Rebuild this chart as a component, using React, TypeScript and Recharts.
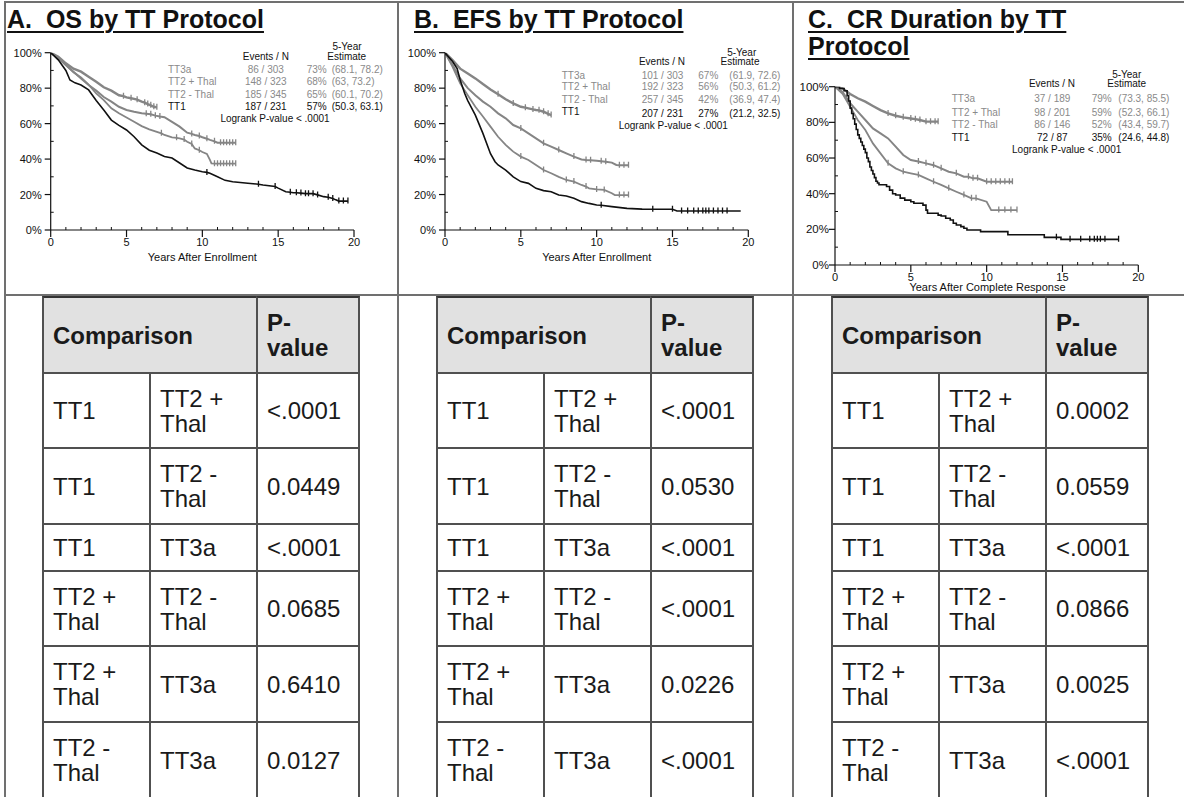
import React from 'react';
import { LineChart, Line, XAxis, YAxis } from 'recharts';

// ---------------- DATA ----------------
type Pt = number[]; // [years, survival %, censored flag (1)]

const seriesNames = ['TT3a', 'TT2 + Thal', 'TT2 - Thal', 'TT1'];

// A. OS
const osTT3a: Pt[] = [[0,100],[0.5,97.7],[1,94],[1.5,91],[2,89.3],[2.5,86.5],[3,83.6],[3.5,80.5],[4,78.6],[4.5,76],[4.8,75.5,1],[5,74.8],[5.3,74.3,1],[5.5,74],[5.7,73.5,1],[6,72.4],[6.2,71.8,1],[6.4,71,1],[6.6,70.3,1],[6.8,69.5,1],[7,69.2,1]];
const osTT2p: Pt[] = [[0,100],[0.5,97],[1,93],[1.5,89.3],[2,85.5],[2.5,81.8],[3,78.6],[3.5,75],[4,72.4],[4.5,69.5],[5,67.7],[5.5,66.7],[6,65.8],[6.3,65.6,1],[6.6,65.3,1],[6.9,64.5,1],[7.2,64,1],[7.5,63.6],[8,61],[8.5,58.3],[9,54.9],[9.3,54.2,1],[9.5,53.6],[9.8,53,1],[10,52.3],[10.3,51.5,1],[10.5,50.8],[10.8,50,1],[11,49.2],[11.2,49.2,1],[11.4,49.2,1],[11.6,49.2,1],[11.8,49.2,1],[12,49.2,1],[12.2,49.2,1]];
const osTT2m: Pt[] = [[0,100],[0.5,97],[1,93],[1.5,89],[2,86],[2.5,82],[3,77],[3.5,73.3],[4,68.6],[4.5,65.8],[5,63.5],[5.5,61],[6,58.6],[6.5,56.8],[7,55.4],[7.3,54.5,1],[7.5,53.6],[8,52.3],[8.3,52,1],[8.5,51.7],[8.8,51,1],[9,49.8],[9.3,48.5,1],[9.5,46],[9.8,45,1],[10,44],[10.3,42.9],[10.5,39.5],[10.6,37.6],[10.8,37.4,1],[11,37.4,1],[11.2,37.4,1],[11.4,37.4,1],[11.6,37.4,1],[11.8,37.4,1],[12,37.4,1],[12.2,37.4,1]];
const osTT1: Pt[] = [[0,100],[0.5,96],[1,90],[1.27,84.6],[1.6,83],[2,81.8],[2.5,79],[3,73],[3.5,67.7],[4,62],[4.5,59],[5,56.4],[5.5,52.6],[6,48],[6.5,45],[7,43.4],[7.5,41.4],[8,40.6],[8.5,37.8],[9,35],[9.5,33.8],[10,32.9],[10.3,32.5,1],[10.5,32],[11,30],[11.5,28],[12,27.2],[13,26.4],[13.7,25.8,1],[14,25.4],[14.8,24.5,1],[15,23.6],[15.5,21.6],[15.8,21.3,1],[16,21],[16.2,21,1],[16.5,20.8,1],[16.8,20.5,1],[17,20.5,1],[17.3,20.5,1],[17.6,19.8,1],[18,18.8],[18.3,18.5,1],[18.6,17.8,1],[18.8,17],[19,16.3,1],[19.3,16.3,1],[19.6,16.3,1]];

// B. EFS
const efsTT3a: Pt[] = [[0,100],[0.5,95.9],[1,91],[1.5,88.3],[2,85.5],[2.5,82.3],[3,79.3],[3.5,76.5,1],[4,73.7],[4.5,71.4,1],[5,69.5],[5.3,69,1],[5.5,68.6],[5.8,68,1],[6,67.7],[6.2,67.5,1],[6.5,66.7,1],[6.8,65.5,1],[7,64.8,1]];
const efsTT2p: Pt[] = [[0,100],[0.5,93],[1,85.5],[1.5,80],[2,76],[2.5,72.4],[3,69.5],[3.5,65.8],[4,63],[4.5,59.2],[5,57.3,1],[5.5,54.5],[6,51.7],[6.5,48.9,1],[7,47],[7.5,45.1,1],[8,43.2],[8.5,41.4,1],[9,39.8],[9.3,39.5,1],[9.6,39.3,1],[10,39],[10.3,38.8,1],[10.6,38.5,1],[11,38],[11.3,36.7],[11.5,36.5,1],[11.8,36.5,1],[12.1,36.5,1]];
const efsTT2m: Pt[] = [[0,100],[0.5,92],[1,82.7],[1.5,76],[2,69.5],[2.5,64],[3,58.3],[3.5,52.6],[4,48],[4.5,44.2],[5,41.4,1],[5.5,39.5],[6,36.7],[6.5,33.8,1],[7,32],[7.5,30],[8,28.2,1],[8.5,27.3,1],[9,25.4],[9.3,24.5,1],[9.5,23.5],[10,22.9,1],[10.5,22.6,1],[11,20.7],[11.2,19.7],[11.5,19.7,1],[11.8,19.7,1],[12.1,19.7,1]];
const efsTT1: Pt[] = [[0,100],[0.5,95],[0.8,91],[1,84.6],[1.3,77],[1.5,73],[2,64.8],[2.5,54.5],[3,43],[3.3,38.5],[3.5,36.7],[4,33.8],[4.5,30],[5,27.3],[5.5,26.3],[6,23.5],[6.5,22.2],[7,21.6],[7.5,19.7],[8,19.2],[8.5,17.9],[9,16],[9.5,15],[10,14.1],[10.3,14,1],[11,13.2],[12,12.2],[13,11.8],[13.7,11.7,1],[15,11.7,1],[15.3,10.7],[15.6,10.7,1],[16,10.7,1],[16.4,10.7,1],[16.7,10.7,1],[17,10.7,1],[17.2,10.7,1],[17.4,10.7,1],[17.7,10.7,1],[18,10.7,1],[18.3,10.7,1],[18.6,10.7,1],[19.5,10.7]];

// C. CR duration
const crTT3a: Pt[] = [[0,100],[0.5,99],[1,95.9],[1.5,93.5],[2,91.6],[2.5,89.2],[3,86.9],[3.5,85,1],[4,83.7,1],[4.5,82.8,1],[5,82.2,1],[5.3,81.8,1],[5.6,81.3,1],[6,80.4,1],[6.3,80.4,1],[6.6,80.4,1],[6.8,80.4,1]];
const crTT2p: Pt[] = [[0,100],[0.5,97],[1,90.7],[1.5,86],[2,81.3],[2.5,76.6],[3,73.8],[3.5,71],[4,66.4],[4.5,61.7],[5,58.9],[5.5,58,1],[6,57,1],[6.5,56,1],[7,54.2,1],[7.5,52.3],[8,51.4,1],[8.5,49.5],[8.8,49.5,1],[9.1,48.6,1],[9.4,48.6,1],[9.7,47.7],[10,46.7,1],[10.3,46.7,1],[10.6,46.7,1],[10.9,46.7,1],[11.2,46.7,1],[11.5,46.7,1],[11.7,46.7,1]];
const crTT2m: Pt[] = [[0,100],[0.5,96],[1,88.8],[1.5,81.3],[2,75.7],[2.5,68.2],[3,62.6],[3.5,57,1],[4,54.2],[4.5,52.3,1],[5,51.4],[5.5,50.5,1],[6,48.6],[6.5,46.7,1],[7,44.9],[7.5,43,1],[8,41.1],[8.5,39.3,1],[9,37.4,1],[9.3,37.4,1],[10,35.5],[10.3,30.8],[10.8,30.8,1],[11.2,30.8,1],[11.6,30.8,1],[12,30.8,1]];
const crTT1: Pt[] = [[0,100],[0.3,99],[0.6,97.7],[0.8,95],[0.9,92],[1,88],[1.1,85],[1.2,82],[1.3,79],[1.4,76],[1.5,73],[1.6,71],[1.7,69],[1.8,67],[1.9,65],[2,63],[2.1,60],[2.2,58],[2.3,55],[2.4,53],[2.5,51],[2.6,49],[2.7,47],[2.8,46],[2.9,45],[3.4,44],[3.6,42],[3.8,40],[4,39.3],[4.3,37.5],[4.6,36.4],[5,35.5],[5.2,34.6],[5.8,33.6],[6,30.8],[6.1,29],[6.8,28],[7,27.5],[7.3,26.2],[7.6,25.2],[7.8,23.4],[8,22.4],[8.3,21.5],[8.5,20.6],[8.7,19.6],[9.6,18.7],[11.4,17],[13.8,15.5],[14.6,15.5,1],[14.9,14.4],[15.5,14.4,1],[16.2,14.4,1],[16.8,14.4,1],[17.1,14.4,1],[17.3,14.4,1],[17.5,14.4,1],[17.8,14.4,1],[18.7,14.4,1]];

// legend tables
const osEvents = ['86 / 303', '148 / 323', '185 / 345', '187 / 231'];
const osEst = ['73%', '68%', '65%', '57%'];
const osCI = ['(68.1, 78.2)', '(63, 73.2)', '(60.1, 70.2)', '(50.3, 63.1)'];
const efsEvents = ['101 / 303', '192 / 323', '257 / 345', '207 / 231'];
const efsEst = ['67%', '56%', '42%', '27%'];
const efsCI = ['(61.9, 72.6)', '(50.3, 61.2)', '(36.9, 47.4)', '(21.2, 32.5)'];
const crEvents = ['37 / 189', '98 / 201', '86 / 146', '72 / 87'];
const crEst = ['79%', '59%', '52%', '35%'];
const crCI = ['(73.3, 85.5)', '(52.3, 66.1)', '(43.4, 59.7)', '(24.6, 44.8)'];

// comparison tables
const compLeft = ['TT1', 'TT1', 'TT1', 'TT2 + Thal', 'TT2 + Thal', 'TT2 - Thal'];
const compRight = ['TT2 + Thal', 'TT2 - Thal', 'TT3a', 'TT2 - Thal', 'TT3a', 'TT3a'];
const osP = ['<.0001', '0.0449', '<.0001', '0.0685', '0.6410', '0.0127'];
const efsP = ['<.0001', '0.0530', '<.0001', '<.0001', '0.0226', '<.0001'];
const crP = ['0.0002', '0.0559', '<.0001', '0.0866', '0.0025', '<.0001'];

const xTicks = Array.from({ length: 21 }, (_, i) => i);
const yTicks = [0, 10, 20, 30, 40, 50, 60, 70, 80, 90, 100];

// ---------------- STYLE ----------------
const FONT = '"Liberation Sans", Arial, Helvetica, sans-serif';
const GRAY = '#858585';
const LEG_GRAY = '#8a8a8a';
const INK = '#111';

const lineStyles = [
  { color: GRAY, width: 2.4 },
  { color: GRAY, width: 2 },
  { color: GRAY, width: 1.8 },
  { color: INK, width: 1.6 },
];

const toRows = (pts: Pt[]) => pts.map(([t, s, c]) => ({ t, s, c: c === 1 }));

const makeYTick = (gap: number, size: number) => (props: any) => {
  const { x, y, payload } = props;
  const major = payload.value % 20 === 0;
  return (
    <g>
      {major ? (
        <line x1={x - 6} x2={x} y1={y} y2={y} stroke={INK} strokeWidth={1.2} />
      ) : (
        <line x1={x} x2={x + 3} y1={y} y2={y} stroke={INK} strokeWidth={1} />
      )}
      {major && (
        <text x={x - gap} y={y} textAnchor="end" dominantBaseline="central" fontSize={size} fill={INK} fontFamily={FONT}>
          {payload.value}%
        </text>
      )}
    </g>
  );
};

const makeXTick = (dy: number) => (props: any) => {
  const { x, y, payload } = props;
  const major = payload.value % 5 === 0;
  return (
    <g>
      {major ? (
        <line x1={x} x2={x} y1={y} y2={y + 7} stroke={INK} strokeWidth={1.2} />
      ) : (
        <line x1={x} x2={x} y1={y} y2={y - 3} stroke={INK} strokeWidth={1} />
      )}
      {major && (
        <text x={x} y={y + dy} textAnchor="middle" dominantBaseline="central" fontSize={11} fill={INK} fontFamily={FONT}>
          {payload.value}
        </text>
      )}
    </g>
  );
};

const Txt = ({ x, y, anchor = 'start', color = INK, size = 10, bold = false, children }: any) => (
  <div
    style={{
      position: 'absolute',
      left: x,
      top: y - size / 2,
      lineHeight: `${size}px`,
      fontSize: size,
      color,
      whiteSpace: 'pre',
      fontWeight: bold ? 700 : 400,
      fontFamily: FONT,
      transform: anchor === 'middle' ? 'translateX(-50%)' : anchor === 'end' ? 'translateX(-100%)' : undefined,
    }}
  >
    {children}
  </div>
);

function KM({ left, top, width, height, margin, series, steps, yGap, ySize, xDy }: any) {
  const YT = makeYTick(yGap, ySize);
  const XT = makeXTick(xDy);
  return (
    <div style={{ position: 'absolute', left, top }}>
      <LineChart width={width} height={height} margin={margin}>
        <XAxis
          type="number"
          dataKey="t"
          domain={[0, 20]}
          ticks={xTicks}
          interval={0}
          tickSize={0}
          tickMargin={0}
          tickLine={false}
          tick={(p: any) => <XT {...p} />}
          height={30}
          axisLine={{ stroke: INK, strokeWidth: 1.2 }}
          allowDataOverflow
        />
        <YAxis
          type="number"
          domain={[0, 100]}
          ticks={yTicks}
          interval={0}
          tickSize={0}
          tickMargin={0}
          tickLine={false}
          tick={(p: any) => <YT {...p} />}
          width={40}
          axisLine={{ stroke: INK, strokeWidth: 1.2 }}
          allowDataOverflow
        />
        {series.map((pts: Pt[], i: number) => {
          const st = lineStyles[i];
          return (
            <Line
              key={seriesNames[i]}
              data={toRows(pts)}
              dataKey="s"
              type={steps && steps[i] ? 'stepAfter' : 'linear'}
              stroke={st.color}
              strokeWidth={st.width}
              activeDot={false}
              isAnimationActive={false}
              dot={(p: any) =>
                p.payload && p.payload.c ? (
                  <path key={`c${i}-${p.index}`} d={`M${p.cx},${p.cy - 3.5}V${p.cy + 2.5}`} stroke={st.color} strokeWidth={1.3} />
                ) : (
                  <g key={`n${i}-${p.index}`} />
                )
              }
            />
          );
        })}
      </LineChart>
    </div>
  );
}

function KMLegend({ labelX, eventsX, pctRight, ciLeft, rowYs, valueYs, yearPos, estPos, evPos, logPos, events, est, ci }: any) {
  return (
    <>
      <Txt x={yearPos[0]} y={yearPos[1]} anchor="middle">5-Year</Txt>
      <Txt x={estPos[0]} y={estPos[1]} anchor="middle">Estimate</Txt>
      <Txt x={evPos[0]} y={evPos[1]} anchor="middle">Events / N</Txt>
      {seriesNames.map((n, i) => {
        const c = i === 3 ? INK : LEG_GRAY;
        const vy = valueYs[i];
        return (
          <React.Fragment key={n}>
            <Txt x={labelX} y={rowYs[i]} color={c}>{n}</Txt>
            <Txt x={eventsX} y={vy} color={c} anchor="middle">{events[i]}</Txt>
            <Txt x={pctRight} y={vy} color={c} anchor="end">{est[i]}</Txt>
            <Txt x={ciLeft} y={vy} color={c}>{ci[i]}</Txt>
          </React.Fragment>
        );
      })}
      <Txt x={logPos[0]} y={logPos[1]} anchor="middle">Logrank P-value &lt; .0001</Txt>
    </>
  );
}

const TB = '#505050';
const colW = [107, 107, 102];
const rowTops = [297, 373, 448, 524, 571, 646, 722, 798];

function PTable({ left, pvals }: any) {
  const colL = [0, colW[0], colW[0] + colW[1]];
  const cells: any[] = [];
  const cellStyle = (x: number, y: number, w: number, h: number, bg: string) => ({
    position: 'absolute' as const,
    left: left + x - 1,
    top: y - 1,
    width: w + 2,
    height: h + 2,
    border: `2px solid ${TB}`,
    boxSizing: 'border-box' as const,
    background: bg,
    display: 'flex',
    alignItems: 'center',
    paddingLeft: 9,
    paddingRight: 6,
    fontFamily: FONT,
    fontSize: 24,
    lineHeight: '25px',
    color: '#1a1a1a',
  });
  const hH = rowTops[1] - rowTops[0];
  cells.push(
    <div key="h1" style={{ ...cellStyle(0, rowTops[0], colW[0] + colW[1], hH, '#e1e1e1'), fontWeight: 700, borderTopColor: '#333' }}>
      Comparison
    </div>
  );
  cells.push(
    <div key="h2" style={{ ...cellStyle(colL[2], rowTops[0], colW[2], hH, '#e1e1e1'), fontWeight: 700, whiteSpace: 'pre', borderTopColor: '#333' }}>
      {'P-\nvalue'}
    </div>
  );
  compLeft.forEach((a, r) => {
    const y = rowTops[r + 1];
    const h = rowTops[r + 2] - y;
    const vals = [a, compRight[r], pvals[r]];
    vals.forEach((v, c) => {
      cells.push(
        <div key={`r${r}c${c}`} style={cellStyle(colL[c], y, colW[c], h, '#fff')}>
          <span>{v}</span>
        </div>
      );
    });
  });
  return <>{cells}</>;
}

const FR = '#707070';

export default function App() {
  const titleStyle = (x: number, top: number) => ({
    position: 'absolute' as const,
    left: x,
    top,
    fontFamily: FONT,
    fontWeight: 700,
    fontSize: 25,
    lineHeight: '27px',
    color: INK,
    whiteSpace: 'pre' as const,
    textDecoration: 'underline',
    textDecorationThickness: '2px',
    textUnderlineOffset: '3px',
  });
  return (
    <div style={{ position: 'absolute', left: 0, top: 0, width: 1184, height: 797, overflow: 'hidden', background: '#fff', fontFamily: FONT }}>
      {/* frame */}
      <div style={{ position: 'absolute', left: 4, top: 1, width: 1180, height: 2, background: FR }} />
      <div style={{ position: 'absolute', left: 4, top: 1, width: 2, height: 800, background: FR }} />
      <div style={{ position: 'absolute', left: 397, top: 1, width: 2, height: 800, background: FR }} />
      <div style={{ position: 'absolute', left: 792, top: 1, width: 2, height: 800, background: FR }} />
      <div style={{ position: 'absolute', left: 4, top: 294, width: 1180, height: 2, background: FR }} />

      {/* titles */}
      <div style={titleStyle(7, 6.3)}>{'A.  OS by TT Protocol'}</div>
      <div style={titleStyle(414, 6.3)}>{'B.  EFS by TT Protocol'}</div>
      <div style={titleStyle(808, 6.3)}>{'C.  CR Duration by TT\nProtocol'}</div>

      {/* charts */}
      <KM left={0} top={0} width={398} height={290} margin={{ top: 52.7, left: 10.7, right: 44, bottom: 30 }}
        series={[osTT3a, osTT2p, osTT2m, osTT1]} yGap={9} ySize={11} xDy={12} />
      <KM left={398} top={0} width={395} height={290} margin={{ top: 52.7, left: 7, right: 44.7, bottom: 30 }}
        series={[efsTT3a, efsTT2p, efsTT2m, efsTT1]} yGap={9} ySize={11} xDy={12} />
      <KM left={793} top={0} width={391} height={295} margin={{ top: 86.7, left: 2, right: 45.7, bottom: 0 }}
        series={[crTT3a, crTT2p, crTT2m, crTT1]} steps={[false, false, false, true]} yGap={6} ySize={11.5} xDy={11.7} />

      {/* axis titles */}
      <Txt x={202.3} y={257.3} anchor="middle" size={11}>Years After Enrollment</Txt>
      <Txt x={596.7} y={257.3} anchor="middle" size={11}>Years After Enrollment</Txt>
      <Txt x={987.5} y={287.3} anchor="middle" size={11}>Years After Complete Response</Txt>

      {/* legends */}
      <KMLegend labelX={168} eventsX={265.8} pctRight={326.7} ciLeft={331.7}
        rowYs={[70, 82.3, 94.6, 107]} valueYs={[70, 82.3, 94.6, 107]}
        yearPos={[347, 46.7]} estPos={[346.7, 57.3]} evPos={[265.8, 57.3]} logPos={[275, 119.3]}
        events={osEvents} est={osEst} ci={osCI} />
      <KMLegend labelX={561.7} eventsX={662.5} pctRight={718.3} ciLeft={729.3}
        rowYs={[76, 87.3, 100, 111.7]} valueYs={[76, 87.3, 100, 114.3]}
        yearPos={[741.7, 52.7]} estPos={[740, 62]} evPos={[662, 62]} logPos={[673.3, 126]}
        events={efsEvents} est={efsEst} ci={efsCI} />
      <KMLegend labelX={951.7} eventsX={1052.3} pctRight={1111.7} ciLeft={1118.3}
        rowYs={[98.7, 113.3, 125, 138.3]} valueYs={[98.7, 113.3, 125, 138.3]}
        yearPos={[1126.7, 75]} estPos={[1126.7, 84]} evPos={[1052, 84]} logPos={[1066.7, 150]}
        events={crEvents} est={crEst} ci={crCI} />

      {/* tables */}
      <PTable left={43} pvals={osP} />
      <PTable left={437} pvals={efsP} />
      <PTable left={832} pvals={crP} />
    </div>
  );
}
